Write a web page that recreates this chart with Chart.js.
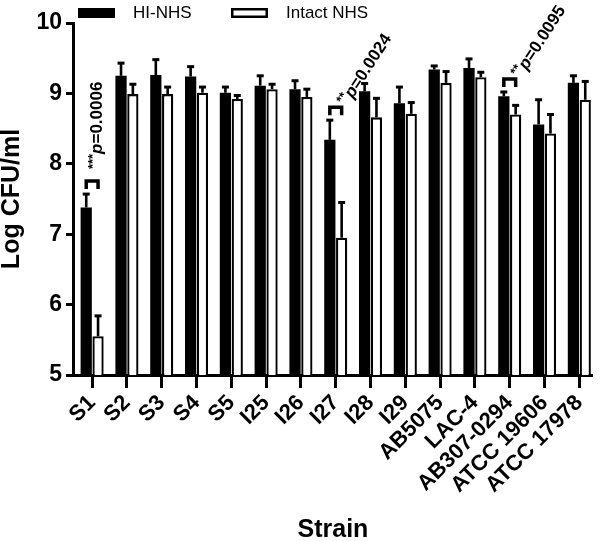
<!DOCTYPE html>
<html><head><meta charset="utf-8">
<script src="https://cdn.jsdelivr.net/npm/chart.js@4/dist/chart.umd.min.js"></script>
<style>html,body{margin:0;padding:0;background:#fff;overflow:hidden}</style>
</head><body>
<canvas id="c" width="600" height="541"></canvas>
<script>
// ---- data ----
const categories = ['S1','S2','S3','S4','S5','I25','I26','I27','I28','I29','AB5075','LAC-4','AB307-0294','ATCC 19606','ATCC 17978'];
const hiNHS      = [7.38, 9.25, 9.26, 9.24, 9.01, 9.11, 9.06, 8.34, 9.03, 8.86, 9.34, 9.36, 8.96, 8.56, 9.15];
const hiNHSErr   = [0.19, 0.18, 0.22, 0.14, 0.08, 0.14, 0.12, 0.28, 0.11, 0.23, 0.05, 0.13, 0.06, 0.35, 0.10];
const intactNHS    = [5.55, 8.99, 8.99, 9.01, 8.92, 9.06, 8.95, 6.95, 8.66, 8.71, 9.15, 9.23, 8.70, 8.43, 8.91];
const intactNHSErr = [0.29, 0.14, 0.10, 0.08, 0.05, 0.07, 0.11, 0.50, 0.27, 0.16, 0.16, 0.07, 0.13, 0.27, 0.26];
const yTickValues = [5, 6, 7, 8, 9, 10];
const sigIndex = [0, 7, 12];
const sigStars = ['***', '**', '**'];
const sigPValue = ['0.0006', '0.0024', '0.0095'];

const FONT = "'Liberation Sans', Arial, Helvetica, sans-serif";
const errors = [hiNHSErr, intactNHSErr];

const errorBarPlugin = {
  id: 'errorBars',
  afterDatasetsDraw(chart) {
    const ctx = chart.ctx, y = chart.scales.y;
    ctx.save();
    ctx.strokeStyle = '#000';
    chart.data.datasets.forEach((ds, d) => {
      const meta = chart.getDatasetMeta(d);
      meta.data.forEach((el, i) => {
        const v = ds.data[i].y, e = errors[d][i];
        const yTop = y.getPixelForValue(v + e);
        ctx.lineWidth = 2.6;
        ctx.beginPath();
        ctx.moveTo(el.x, el.y);
        ctx.lineTo(el.x, yTop);
        ctx.stroke();
        ctx.lineWidth = 3;
        ctx.beginPath();
        ctx.moveTo(el.x - 3.5, yTop);
        ctx.lineTo(el.x + 3.5, yTop);
        ctx.stroke();
      });
    });
    ctx.restore();
  }
};

const sigPlugin = {
  id: 'significance',
  afterDatasetsDraw(chart, args, opts) {
    const ctx = chart.ctx, y = chart.scales.y;
    const m0 = chart.getDatasetMeta(0), m1 = chart.getDatasetMeta(1);
    ctx.save();
    sigIndex.forEach((i, k) => {
      const a = m0.data[i], b = m1.data[i];
      const capTop = Math.min(y.getPixelForValue(hiNHS[i] + hiNHSErr[i]), y.getPixelForValue(intactNHS[i] + intactNHSErr[i]));
      const by = capTop - 13;
      ctx.strokeStyle = '#000';
      ctx.lineWidth = 3.5;
      ctx.lineJoin = 'miter';
      ctx.beginPath();
      ctx.moveTo(a.x, by + 8);
      ctx.lineTo(a.x, by);
      ctx.lineTo(b.x, by);
      ctx.lineTo(b.x, by + 8);
      ctx.stroke();
      const cx = (a.x + b.x) / 2;
      const ang = opts.angles[k] * Math.PI / 180;
      const s = opts.starts[k];
      const ux = Math.cos(ang), uy = Math.sin(ang);
      const dx = -Math.sin(ang), dy = Math.cos(ang);
      const ax = cx + ux * s + dx * 5, ay = by + uy * s + dy * 5;
      ctx.save();
      ctx.translate(ax, ay);
      ctx.rotate(ang);
      ctx.fillStyle = '#000';
      ctx.textBaseline = 'middle';
      ctx.textAlign = 'left';
      let x = 0;
      ctx.font = 'bold 13px ' + FONT;
      ctx.fillText(sigStars[k], x, -4);
      x += ctx.measureText(sigStars[k]).width;
      ctx.font = 'italic bold 17px ' + FONT;
      ctx.fillText('p', x, 0);
      x += ctx.measureText('p').width;
      ctx.font = 'bold 17px ' + FONT;
      ctx.fillText('=' + sigPValue[k], x, 0);
      ctx.restore();
    });
    ctx.restore();
  }
};

const legendPlugin = {
  id: 'customLegend',
  afterDraw(chart, args, opts) {
    const ctx = chart.ctx;
    ctx.save();
    ctx.font = '17px ' + FONT;
    ctx.textBaseline = 'middle';
    chart.data.datasets.forEach((ds, d) => {
      const bx = opts.boxX[d], by = 8, bw = 37, bh = 10;
      ctx.fillStyle = ds.backgroundColor;
      ctx.fillRect(bx, by, bw, bh);
      if (ds.borderWidth) {
        ctx.strokeStyle = ds.borderColor;
        ctx.lineWidth = 2.5;
        ctx.strokeRect(bx + 1.25, by + 1.25, bw - 2.5, bh - 2.5);
      }
      ctx.fillStyle = '#000';
      ctx.fillText(ds.label, bx + bw + 18, by + 5);
    });
    ctx.restore();
  }
};

new Chart(document.getElementById('c'), {
  type: 'bar',
  data: {
    datasets: [
      { label: 'HI-NHS', data: hiNHS.map((v, i) => ({ x: i, y: v })),
        backgroundColor: '#000', borderWidth: 0,
        categoryPercentage: 0.68, barPercentage: 0.95 },
      { label: 'Intact NHS', data: intactNHS.map((v, i) => ({ x: i, y: v })),
        backgroundColor: '#fff', borderColor: '#000', borderWidth: 2.3, borderSkipped: false,
        categoryPercentage: 0.68, barPercentage: 0.95 }
    ]
  },
  options: {
    responsive: false,
    animation: false,
    layout: { padding: { top: 23, right: 0, left: 0, bottom: 0 } },
    plugins: {
      legend: { display: false },
      tooltip: { enabled: false },
      significance: { angles: [-90, -57, -57], starts: [12, 6, 6] },
      customLegend: { boxX: [78, 231] }
    },
    scales: {
      x: {
        type: 'linear',
        min: -0.55, max: 14.39,
        offset: false,
        afterBuildTicks: (s) => { s.ticks = categories.map((c, i) => ({ value: i })); },
        afterFit: (s) => { s.height = 166; },
        ticks: {
          autoSkip: false, minRotation: 45, maxRotation: 45, padding: 2,
          color: '#000', font: { family: FONT, size: 22, weight: 'bold' },
          callback: (v) => categories[v]
        },
        grid: { display: true, drawOnChartArea: false, offset: false, tickLength: 13, tickWidth: 3, tickColor: '#000' },
        border: { display: true, color: '#000', width: 3 },
        title: { display: true, text: 'Strain', color: '#000', font: { family: FONT, size: 25, weight: 'bold', lineHeight: 1 }, padding: { top: 0, bottom: -2 } }
      },
      y: {
        min: 5, max: 10,
        afterBuildTicks: (s) => { s.ticks = yTickValues.map(v => ({ value: v })); },
        afterFit: (s) => { s.width = 73; },
        ticks: { color: '#000', padding: 4, font: { family: FONT, size: 23, weight: 'bold' } },
        grid: { display: true, drawOnChartArea: false, tickLength: 7, tickWidth: 3, tickColor: '#000' },
        border: { display: true, color: '#000', width: 3 },
        title: { display: true, text: 'Log CFU/ml', color: '#000', font: { family: FONT, size: 25, weight: 'bold', lineHeight: 1 }, padding: { top: 0, bottom: 0 } }
      }
    }
  },
  plugins: [errorBarPlugin, sigPlugin, legendPlugin]
});
</script>
</body></html>
